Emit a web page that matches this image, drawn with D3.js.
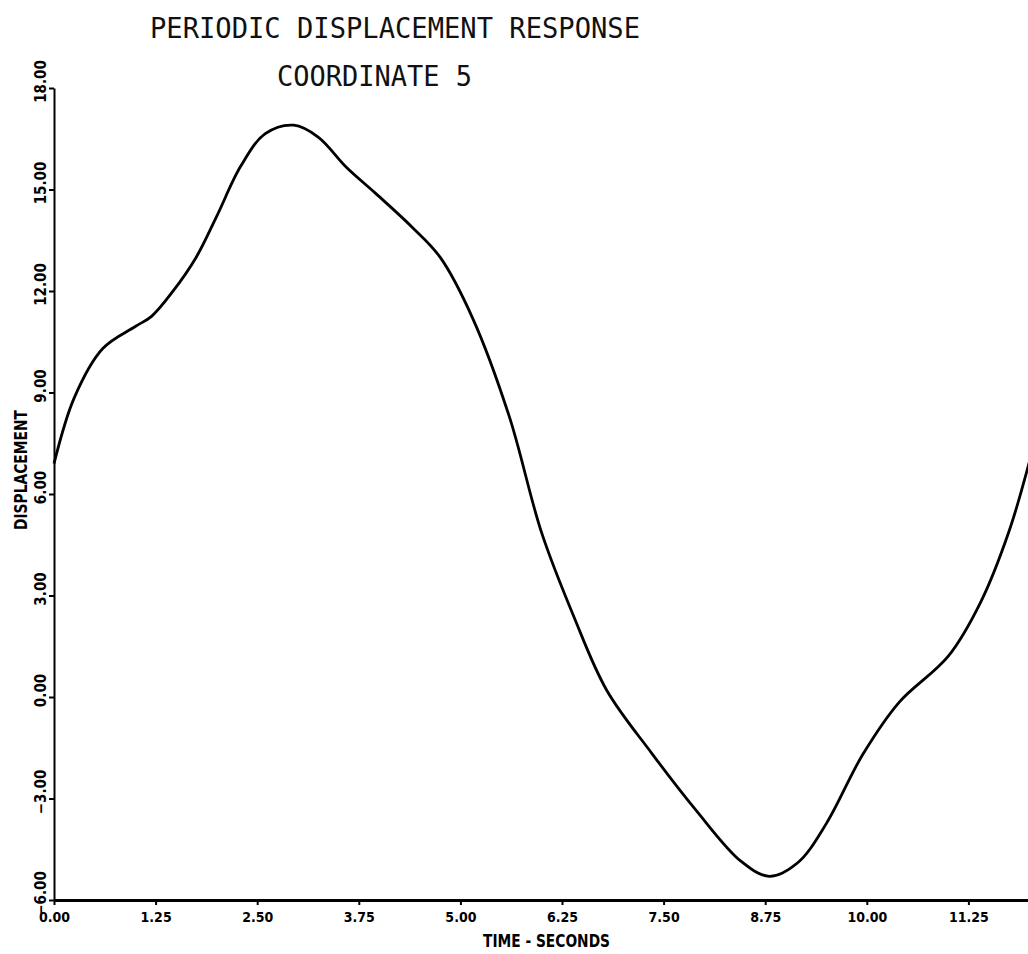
<!DOCTYPE html>
<html>
<head>
<meta charset="utf-8">
<script src="https://cdn.jsdelivr.net/npm/d3@7"></script>
<style>
  body { margin: 0; background: #fff; }
  svg { display: block; }
  .tick text { font-family: "DejaVu Sans Condensed", "DejaVu Sans", sans-serif; font-weight: bold; font-stretch: condensed; }
  .title { font-family: "DejaVu Sans Mono", monospace; fill: #111; }
  .axisTitle { font-family: "DejaVu Sans Condensed", "DejaVu Sans", sans-serif; font-weight: bold; fill: #000; }
</style>
</head>
<body>
<script>
// time in seconds, displacement
var times = [0, 0.25, 0.6, 1.0, 1.2, 1.45, 1.75, 2.0, 2.3, 2.6, 2.95, 3.25, 3.6, 3.95, 4.4, 4.75,
             5.15, 5.6, 6.0, 6.4, 6.8, 7.35, 7.9, 8.45, 8.8, 9.15, 9.5, 9.95, 10.4, 11.0, 11.4, 11.75, 12.0];
var displacement = [6.9, 8.85, 10.3, 10.95, 11.25, 11.95, 13.0, 14.2, 15.7, 16.65, 16.9, 16.55, 15.65, 14.9, 13.9, 13.0,
             11.2, 8.3, 4.85, 2.35, 0.2, -1.65, -3.35, -4.85, -5.3, -4.9, -3.75, -1.7, -0.15, 1.2, 2.8, 4.9, 6.95];
var xTicks = [0, 1.25, 2.5, 3.75, 5, 6.25, 7.5, 8.75, 10, 11.25];
var yTicks = [-6, -3, 0, 3, 6, 9, 12, 15, 18];

var width = 1028, height = 954;

var svg = d3.select("body").append("svg")
    .attr("width", width)
    .attr("height", height);

var xScale = d3.scaleLinear().domain([0, 12.5]).range([54, 1070]);
var yScale = d3.scaleLinear().domain([-6, 18]).range([900, 88]);

// titles
svg.append("text").attr("class", "title")
    .attr("x", 150).attr("y", 38)
    .attr("font-size", 28)
    .attr("textLength", 490).attr("lengthAdjust", "spacingAndGlyphs")
    .text("PERIODIC DISPLACEMENT RESPONSE");
svg.append("text").attr("class", "title")
    .attr("x", 277).attr("y", 86)
    .attr("font-size", 28)
    .attr("textLength", 195).attr("lengthAdjust", "spacingAndGlyphs")
    .text("COORDINATE 5");

// x axis
var xAxis = d3.axisBottom(xScale)
    .tickValues(xTicks)
    .tickFormat(d3.format(".2f"))
    .tickSizeInner(5).tickSizeOuter(0);

var xg = svg.append("g")
    .attr("transform", "translate(0," + yScale(-6) + ")")
    .call(xAxis);
xg.select(".domain").attr("stroke", "#000").attr("stroke-width", 3);
xg.selectAll(".tick line").attr("stroke", "#000").attr("stroke-width", 2);
xg.selectAll(".tick text")
    .attr("y", 22).attr("dy", 0)
    .attr("font-size", 14)
    .attr("fill", "#000");

// y axis
var yAxis = d3.axisLeft(yScale)
    .tickValues(yTicks)
    .tickFormat(d3.format(".2f"))
    .tickSizeInner(5).tickSizeOuter(0);

var yg = svg.append("g")
    .attr("transform", "translate(" + xScale(0) + ",0)")
    .call(yAxis);
yg.select(".domain").attr("stroke", "#000").attr("stroke-width", 2);
yg.selectAll(".tick line").attr("stroke", "#000").attr("stroke-width", 2);
yg.selectAll(".tick text")
    .attr("transform", "rotate(-90)")
    .attr("text-anchor", "middle")
    .attr("x", 7).attr("y", -8).attr("dy", 0)
    .attr("font-size", 15)
    .attr("fill", "#000");

// axis titles
svg.append("text").attr("class", "axisTitle")
    .attr("x", 483).attr("y", 947)
    .attr("font-size", 18)
    .attr("textLength", 127).attr("lengthAdjust", "spacingAndGlyphs")
    .text("TIME - SECONDS");

svg.append("text").attr("class", "axisTitle")
    .attr("transform", "translate(27,470) rotate(-90)")
    .attr("text-anchor", "middle")
    .attr("font-size", 18)
    .attr("textLength", 120).attr("lengthAdjust", "spacingAndGlyphs")
    .text("DISPLACEMENT");

// response curve
var line = d3.line()
    .x(function(d, i) { return xScale(times[i]); })
    .y(function(d) { return yScale(d); })
    .curve(d3.curveCatmullRom);

svg.append("path")
    .datum(displacement)
    .attr("fill", "none")
    .attr("stroke", "#000")
    .attr("stroke-width", 2.8)
    .attr("stroke-linejoin", "round")
    .attr("d", line);
</script>
</body>
</html>
